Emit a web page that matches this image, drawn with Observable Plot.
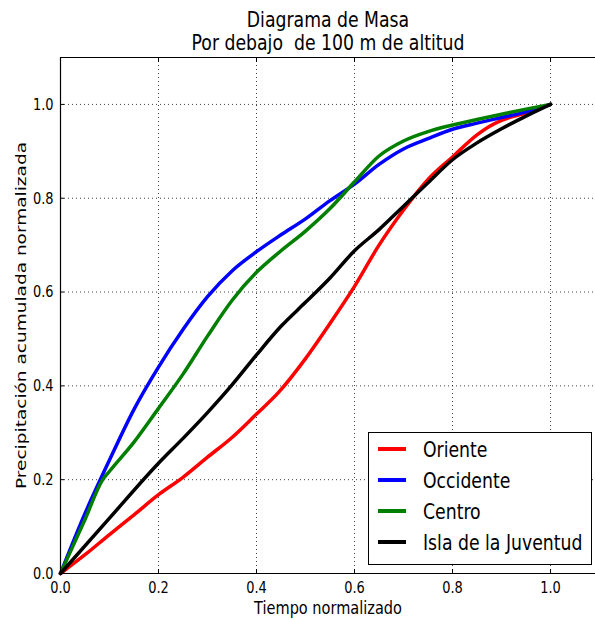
<!DOCTYPE html>
<html>
<head>
<meta charset="utf-8">
<script src="https://cdn.jsdelivr.net/npm/d3@7"></script>
<script src="https://cdn.jsdelivr.net/npm/@observablehq/plot@0.6"></script>
<style>
  body { margin: 0; background: #fff; font-family: "DejaVu Sans", sans-serif; }
  #wrap { position: relative; width: 595px; height: 620px; overflow: hidden; }
  #legend { position: absolute; left: 368px; top: 432px; width: 224px; height: 133px;
    border: 1px solid #000; background: #fff; box-sizing: border-box; font-size: 22px; }
  .item { position: absolute; left: 9px; height: 26px; display: flex; align-items: center; white-space: nowrap; }
  .sw { width: 28px; height: 4px; margin-right: 17px; flex: none; }
  .lt { display: inline-block; transform: scaleX(0.785); transform-origin: left center; }
</style>
</head>
<body>
<div id="wrap"></div>
<script>
const seriesNames = ["Oriente", "Occidente", "Centro", "Isla de la Juventud"];
const seriesColors = ["#ff0000", "#0000ff", "#007f00", "#000000"];

const orienteX = [0, 0.05, 0.1, 0.15, 0.2, 0.25, 0.3, 0.35, 0.4, 0.445, 0.5, 0.55, 0.6, 0.65, 0.7, 0.75, 0.8, 0.85, 0.875, 0.9, 0.95, 1.0];
const orienteY = [0, 0.04, 0.083, 0.125, 0.168, 0.205, 0.248, 0.29, 0.34, 0.386, 0.458, 0.533, 0.612, 0.70, 0.775, 0.84, 0.888, 0.935, 0.953, 0.966, 0.982, 1.0];

const occidenteX = [0, 0.05, 0.1, 0.15, 0.2, 0.25, 0.3, 0.35, 0.4, 0.45, 0.5, 0.55, 0.6, 0.65, 0.7, 0.75, 0.8, 0.85, 0.9, 0.95, 1.0];
const occidenteY = [0, 0.128, 0.242, 0.35, 0.44, 0.52, 0.59, 0.645, 0.686, 0.722, 0.756, 0.795, 0.83, 0.872, 0.905, 0.927, 0.947, 0.96, 0.972, 0.984, 1.0];

const centroX = [0, 0.05, 0.085, 0.1, 0.15, 0.2, 0.25, 0.3, 0.35, 0.4, 0.45, 0.5, 0.55, 0.6, 0.65, 0.7, 0.75, 0.8, 0.85, 0.9, 0.95, 1.0];
const centroY = [0, 0.115, 0.198, 0.218, 0.28, 0.352, 0.425, 0.506, 0.582, 0.642, 0.688, 0.73, 0.778, 0.835, 0.89, 0.922, 0.942, 0.956, 0.968, 0.979, 0.99, 1.0];

const islaX = [0, 0.1, 0.2, 0.25, 0.3, 0.35, 0.4, 0.45, 0.5, 0.55, 0.6, 0.65, 0.7, 0.75, 0.8, 0.85, 0.9, 0.95, 1.0];
const islaY = [0, 0.118, 0.235, 0.288, 0.343, 0.402, 0.466, 0.527, 0.578, 0.63, 0.688, 0.733, 0.783, 0.833, 0.882, 0.918, 0.948, 0.975, 1.0];

const xTicks = [0, 0.2, 0.4, 0.6, 0.8, 1.0];
const yTicks = [0, 0.2, 0.4, 0.6, 0.8, 1.0];
const gridX = [0.2, 0.4, 0.6, 0.8, 1.0];
const gridY = [0.2, 0.4, 0.6, 0.8, 1.0];

const titleLines = ["Diagrama de Masa", "Por debajo  de 100 m de altitud"];
const xLabel = "Tiempo normalizado";
const yLabel = "Precipitación acumulada normalizada";

const xs = [orienteX, occidenteX, centroX, islaX];
const ys = [orienteY, occidenteY, centroY, islaY];
const rows = [];
seriesNames.forEach((name, i) => {
  xs[i].forEach((x, j) => rows.push({series: name, x, y: ys[i][j]}));
});

const font = "DejaVu Sans";
const squeeze = 0.785;
const yLabelSize = 18.5;
const chart = Plot.plot({
  width: 595,
  height: 620,
  marginLeft: 60,
  marginRight: 0,
  marginTop: 57,
  marginBottom: 47,
  style: {fontFamily: font, fontSize: "16px", background: "#fff", color: "#000", overflow: "visible"},
  x: {domain: [0, 1.0918], label: null},
  y: {domain: [0, 1.1], label: null},
  color: {domain: seriesNames, range: seriesColors},
  marks: [
    Plot.ruleX(gridX, {stroke: "#000", strokeOpacity: 0.75, strokeDasharray: "1,3", strokeWidth: 1}),
    Plot.ruleY(gridY, {stroke: "#000", strokeOpacity: 0.75, strokeDasharray: "1,3", strokeWidth: 1}),
    Plot.line(rows, {x: "x", y: "y", z: "series", stroke: "series", strokeWidth: 3.5, curve: "monotone-x"}),
    Plot.ruleX([0], {stroke: "#000", strokeWidth: 1.2}),
    Plot.ruleY([0], {stroke: "#000", strokeWidth: 1.2}),
    Plot.ruleY([1.1], {stroke: "#000", strokeWidth: 1.2}),
    Plot.axisX(xTicks, {anchor: "bottom", tickSize: -4, tickPadding: 12, tickFormat: d3.format(".1f"), fontSize: 16.5, label: null}),
    Plot.axisX(xTicks, {anchor: "top", tickSize: -4, tickFormat: () => "", label: null}),
    Plot.axisY(yTicks, {anchor: "left", tickSize: -4, tickPadding: 11, tickFormat: d3.format(".1f"), fontSize: 16.5, label: null}),
    Plot.text([titleLines[0]], {frameAnchor: "top", lineAnchor: "middle", dy: -38, fontSize: 22, text: d => d}),
    Plot.text([titleLines[1]], {frameAnchor: "top", lineAnchor: "middle", dy: -15, fontSize: 22, text: d => d}),
    Plot.text([xLabel], {frameAnchor: "bottom", lineAnchor: "middle", dy: 35, fontSize: 18.5, text: d => d}),
    Plot.text([yLabel], {frameAnchor: "left", textAnchor: "middle", lineAnchor: "middle", dx: -39, rotate: -90, fontSize: yLabelSize, text: d => d})
  ]
});

const wrap = document.getElementById("wrap");
wrap.appendChild(chart);

// Reproduce the horizontally condensed glyphs of the reference via textLength.
chart.querySelectorAll("text").forEach(t => {
  const s = t.textContent;
  if (!s) return;
  if (s.indexOf("  ") >= 0) t.setAttribute("xml:space", "preserve");
  const L = t.getComputedTextLength();
  if (!(L > 0)) return;
  if (s === yLabel) {
    t.setAttribute("font-size", yLabelSize * squeeze);
    t.setAttribute("textLength", L);
  } else {
    t.setAttribute("textLength", L * squeeze);
  }
  t.setAttribute("lengthAdjust", "spacingAndGlyphs");
});

const legend = document.createElement("div");
legend.id = "legend";
const tops = [3, 34, 65, 96];
seriesNames.forEach((name, i) => {
  const it = document.createElement("div");
  it.className = "item";
  it.style.top = tops[i] + "px";
  const sw = document.createElement("span");
  sw.className = "sw";
  sw.style.background = seriesColors[i];
  const tx = document.createElement("span");
  tx.className = "lt";
  tx.textContent = name;
  it.appendChild(sw);
  it.appendChild(tx);
  legend.appendChild(it);
});
wrap.appendChild(legend);
</script>
</body>
</html>
